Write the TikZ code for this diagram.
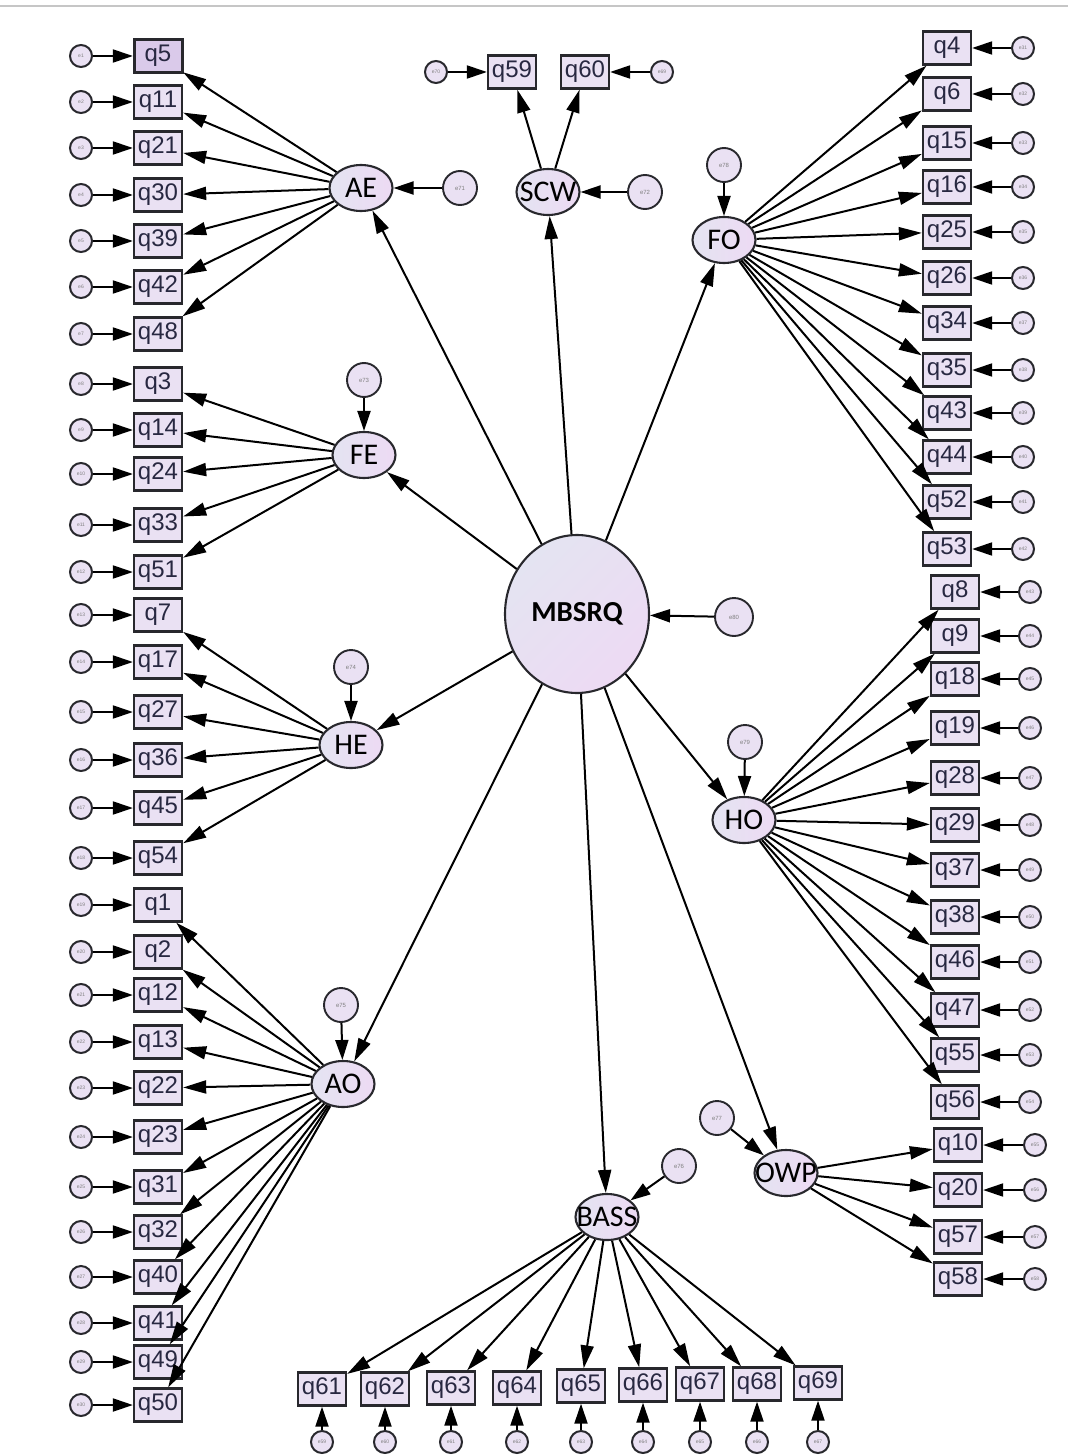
\documentclass[tikz,border=0pt]{standalone}
\usepackage{fontspec}
\setmainfont{Liberation Sans}
\newfontfamily\latfont{Carlito}
\usetikzlibrary{shapes.geometric,arrows.meta}
\definecolor{lav}{RGB}{234,225,243}
\definecolor{lavA}{RGB}{228,228,242}
\definecolor{lavB}{RGB}{237,218,243}
\definecolor{selfill}{RGB}{218,202,234}
\definecolor{bord}{RGB}{40,40,45}
\definecolor{qtext}{RGB}{40,40,65}
\tikzset{
  ind/.style={rectangle, draw=bord, line width=2.3pt, fill=lav, minimum width=48pt, minimum height=33pt, inner sep=0pt, text=qtext, font=\fontsize{24}{24}\selectfont},
  err/.style={circle, draw=bord, line width=2pt, fill=lav, minimum size=22pt, inner sep=0pt, text=gray, font=\fontsize{5}{5}\selectfont},
  lerr/.style={circle, draw=bord, line width=1.9pt, fill=lav, minimum size=34pt, inner sep=0pt, text=gray, font=\fontsize{6}{6}\selectfont},
  lat/.style={ellipse, draw=bord, line width=2.1pt, left color=lavA, right color=lavB, minimum width=63pt, minimum height=46pt, inner sep=0pt},
  latlab/.style={inner sep=0pt, font=\latfont\fontsize{30}{30}\selectfont, text=black},
  arr/.style={-{Triangle[length=23pt,width=13pt]}, line width=2pt, draw=black},
  earr/.style={-{Triangle[length=20pt,width=13pt]}, line width=2pt, draw=black}
}
\begin{document}
\begin{tikzpicture}[x=1pt,y=-1pt]
\useasboundingbox (0,0) rectangle (1068,1455);
\draw[gray!45, line width=2pt] (0,6) -- (1068,6);

% ---------- latent variables ----------
\node[lat, minimum width=144pt, minimum height=158pt, shading angle=45] (MBSRQ) at (577,614) {};
\node[inner sep=0pt, font=\latfont\bfseries\fontsize{29}{29}\selectfont, text=black] at (MBSRQ) {MBSRQ};
\node[lerr, minimum size=38pt] (e80) at (734,617) {e80};

\node[lat] (AE) at (361,188) {};   \node[latlab] at (AE) {AE};
\node[lat] (SCW) at (548,192) {};  \node[latlab] at (SCW) {SCW};
\node[lat] (FE) at (364,455) {};   \node[latlab] at (FE) {FE};
\node[lat] (HE) at (351,745) {};   \node[latlab] at (HE) {HE};
\node[lat] (AO) at (343,1084) {};  \node[latlab] at (AO) {AO};
\node[lat] (FO) at (724,240) {};   \node[latlab] at (FO) {FO};
\node[lat] (HO) at (744,820) {};   \node[latlab] at (HO) {HO};
\node[lat] (OWP) at (786,1173) {}; \node[latlab] at (OWP) {OWP};
\node[lat] (BASS) at (607,1217) {};\node[latlab] at (BASS) {BASS};

\node[lerr] (e71) at (460,188) {e71};
\node[lerr] (e72) at (645,192) {e72};
\node[lerr] (e73) at (364,380) {e73};
\node[lerr] (e74) at (351,667) {e74};
\node[lerr] (e75) at (341,1005) {e75};
\node[lerr] (e78) at (724,165) {e78};
\node[lerr] (e79) at (745,742) {e79};
\node[lerr] (e77) at (717,1118) {e77};
\node[lerr] (e76) at (679,1166) {e76};

% ---------- left column ----------
\foreach \n/\y/\e in {5/56/1,11/102/2,21/148/3,30/195/4,39/241/5,42/287/6,48/334/7,
  3/384/8,14/430/9,24/474/10,33/525/11,51/572/12,
  7/615/13,17/662/14,27/712/15,36/760/16,45/808/17,54/858/18,
  1/905/19,2/952/20,12/995/21,13/1042/22,22/1088/23,23/1137/24,31/1187/25,32/1232/26,40/1277/27,41/1323/28,49/1362/29,50/1405/30}{
  \node[ind] (q\n) at (158,\y) {q\n};
  \node[err] (e\e) at (81,\y) {e\e};
  \draw[earr] (e\e) -- (q\n);
}
\node[ind, fill=selfill, line width=3pt] at (q5) {q5};

% ---------- right column ----------
\foreach \n/\y/\e in {4/48/31,6/94/32,15/143/33,16/187/34,25/232/35,26/278/36,34/323/37,35/370/38,43/413/39,44/457/40,52/502/41,53/549/42}{
  \node[ind] (q\n) at (947,\y) {q\n};
  \node[err] (e\e) at (1023,\y) {e\e};
  \draw[earr] (e\e) -- (q\n);
}
\foreach \n/\y/\e in {8/592/43,9/636/44,18/679/45,19/728/46,28/778/47,29/825/48,37/870/49,38/917/50,46/962/51,47/1010/52,55/1055/53,56/1102/54}{
  \node[ind] (q\n) at (955,\y) {q\n};
  \node[err] (e\e) at (1030,\y) {e\e};
  \draw[earr] (e\e) -- (q\n);
}
\foreach \n/\y/\e in {10/1145/55,20/1190/56,57/1237/57,58/1279/58}{
  \node[ind] (q\n) at (958,\y) {q\n};
  \node[err] (e\e) at (1035,\y) {e\e};
  \draw[earr] (e\e) -- (q\n);
}

% ---------- bottom row ----------
\foreach \n/\x/\y/\e in {61/322/1389/59,62/385/1389/60,63/451/1388/61,64/517/1388/62,65/581/1386/63,66/643/1385/64,67/700/1384/65,68/757/1384/66,69/818/1383/67}{
  \node[ind] (q\n) at (\x,\y) {q\n};
  \node[err] (e\e) at (\x,1442) {e\e};
  \draw[earr] (e\e) -- (q\n);
}

% ---------- top (SCW) ----------
\node[ind] (q59) at (512,72) {q59};
\node[ind] (q60) at (585,72) {q60};
\node[err] (e70) at (436,72) {e70};
\node[err] (e69) at (662,72) {e69};
\draw[earr] (e70) -- (q59);
\draw[earr] (e69) -- (q60);

% ---------- loadings ----------
\foreach \n in {5,11,21,30,39,42,48} \draw[arr] (AE) -- (q\n);
\foreach \n in {3,14,24,33,51} \draw[arr] (FE) -- (q\n);
\foreach \n in {7,17,27,36,45,54} \draw[arr] (HE) -- (q\n);
\foreach \n in {1,2,12,13,22,23,31,32,40,41,49,50} \draw[arr] (AO) -- (q\n);
\foreach \n in {4,6,15,16,25,26,34,35,43,44,52,53} \draw[arr] (FO) -- (q\n);
\foreach \n in {8,9,18,19,28,29,37,38,46,47,55,56} \draw[arr] (HO) -- (q\n);
\foreach \n in {10,20,57,58} \draw[arr] (OWP) -- (q\n);
\foreach \n in {61,62,63,64,65,66,67,68,69} \draw[arr] (BASS) -- (q\n);
\foreach \n in {59,60} \draw[arr] (SCW) -- (q\n);

% ---------- structural paths ----------
\foreach \l in {AE,SCW,FO,FE,HE,AO,BASS,OWP,HO} \draw[arr] (MBSRQ) -- (\l);

% ---------- disturbances ----------
\draw[earr] (e80) -- (MBSRQ);
\draw[earr] (e71) -- (AE);
\draw[earr] (e72) -- (SCW);
\draw[earr] (e73) -- (FE);
\draw[earr] (e74) -- (HE);
\draw[earr] (e75) -- (AO);
\draw[earr] (e78) -- (FO);
\draw[earr] (e79) -- (HO);
\draw[earr] (e77) -- (OWP);
\draw[earr] (e76) -- (BASS);
\end{tikzpicture}
\end{document}
